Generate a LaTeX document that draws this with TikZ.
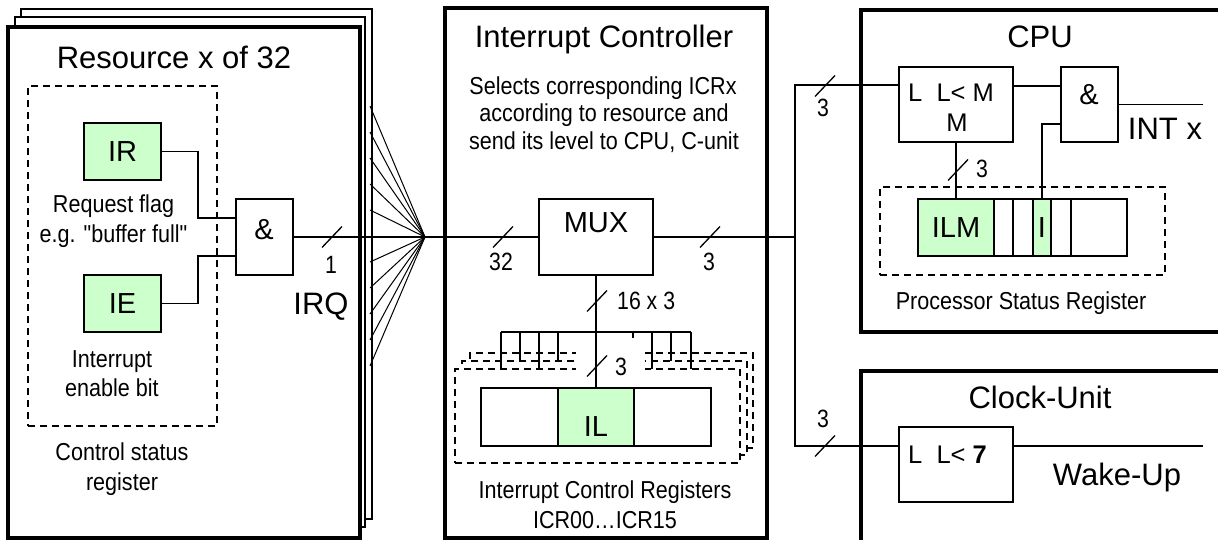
\documentclass[tikz,border=0pt]{standalone}
\usepackage{fontspec}
\setmainfont{Liberation Sans}[Ligatures=TeXOff]
\newfontfamily\narrowf[FakeStretch=0.85]{Liberation Sans}
\newfontfamily\smallf[FakeStretch=0.88,Ligatures=TeXOff]{Liberation Sans}
\definecolor{bitgreen}{RGB}{204,255,204}
\newcommand\ftitle{\fontsize{31}{36}\selectfont}
\newcommand\fbig{\fontsize{29}{34}\selectfont}
\newcommand\flab{\fontsize{25.5}{30}\selectfont}
\newcommand\fsmall{\smallf\fontsize{24.5}{28}\selectfont}
\newcommand\fbus{\narrowf\fontsize{25}{30}\selectfont}
\begin{document}
\begin{tikzpicture}[x=1pt,y=-1pt,
  wire/.style={line width=1.3pt},
  fanline/.style={line width=1pt},
  bigbox/.style={draw,line width=3.5pt,fill=white,inner sep=0pt},
  backbox/.style={draw,line width=2pt,fill=white,inner sep=0pt},
  gatebox/.style={draw,line width=1.5pt,fill=white,inner sep=0pt},
  cellbox/.style={draw,line width=2pt,fill=white,inner sep=0pt},
  greencell/.style={cellbox,fill=bitgreen},
  dashbox/.style={draw,line width=1.3pt,dash pattern=on 7pt off 5pt,inner sep=0pt},
  txt/.style={inner sep=0pt,anchor=base},
  bslash/.pic={\draw[line width=1.3pt] (-10,10.5) -- (10,-10.5);}
]
\useasboundingbox (0,0) rectangle (1218,540);
\clip (0,0) rectangle (1218,540);

% ---------------- Resource stack ----------------
\node[backbox,minimum width=351pt,minimum height=510pt] (res3) at (196.5,264) {};
\node[backbox,minimum width=350pt,minimum height=510pt] (res2) at (190,272) {};
\node[bigbox,minimum width=352pt,minimum height=511pt,line width=4pt] (res1) at (184,282.5) {};
\node[txt,font=\ftitle] (restitle) at (174,69) {Resource x of 32};
\node[dashbox,minimum width=189pt,minimum height=340pt] (csr) at (122.5,256) {};
\node[gatebox,fill=bitgreen,minimum width=77pt,minimum height=57pt,font=\fbig] (ir) at (122.5,151.5) {IR};
\node[gatebox,fill=bitgreen,minimum width=77pt,minimum height=57pt,font=\fbig] (ie) at (122.5,303.5) {IE};
\node[gatebox,minimum width=57pt,minimum height=76pt] (resAnd) at (264.5,237) {};
\node[txt,font=\fbig] (resAndT) at (264,240) {\&};
\node[txt,font=\fsmall] (rq1) at (113.5,213) {Request flag};
\node[txt,font=\fsmall] (rq2) at (113.5,242) {e.g. "buffer full"};
\node[txt,font=\fsmall] (ie1) at (112,367) {Interrupt};
\node[txt,font=\fsmall] (ie2) at (112,396) {enable bit};
\node[txt,font=\fsmall] (cs1) at (122,460) {Control status};
\node[txt,font=\fsmall] (cs2) at (122,490) {register};
\draw[wire] (ir.east) -| (198,218) -- (resAnd.west |- 0,218);
\draw[wire] (ie.east) -| (198,256) -- (resAnd.west |- 0,256);

% fan
\coordinate (fan) at (425,237);
\foreach \yy [count=\i] in {106,132,158,184,210,262,288,314,340,366}{
  \coordinate (f\i) at (370,\yy);
  \draw[fanline] (f\i) -- (fan);
}
\node[txt,font=\ftitle] (irq) at (321,314) {IRQ};

% ---------------- Interrupt controller ----------------
\node[bigbox,minimum width=322pt,minimum height=530pt] (ic) at (606,273) {};
\node[txt,font=\ftitle] (ictitle) at (604,48) {Interrupt Controller};
\node[txt,font=\fsmall] (sel1) at (603,95) {Selects corresponding ICRx};
\node[txt,font=\fsmall] (sel2) at (604,121.5) {according to resource and};
\node[txt,font=\fsmall] (sel3) at (604,150) {send its level to CPU, C-unit};
\node[gatebox,minimum width=114pt,minimum height=76pt] (mux) at (596,237) {};
\node[txt,font=\fbig] (muxT) at (596,233) {MUX};

\draw[wire] (resAnd.east) -- (fan) -- (mux.west);
\pic at (332,237) {bslash};
\node[txt,font=\fbus] (l1) at (331,273) {1};
\pic at (503,237) {bslash};
\node[txt,font=\fbus] (l32) at (501,270) {32};

% ICR stack
\node[dashbox,fill=white,minimum width=283pt,minimum height=95pt] (icr3) at (611.5,400.5) {};
\node[dashbox,fill=white,minimum width=285pt,minimum height=94pt] (icr2) at (604.5,408) {};
\node[dashbox,fill=white,minimum width=285pt,minimum height=94pt] (icr1) at (597.5,416) {};
\fill[white] (576,348) rectangle (645,373);
\node[cellbox,minimum width=77pt,minimum height=58pt] (ilL) at (519.5,417) {};
\node[greencell,minimum width=76pt,minimum height=58pt] (il) at (596,417) {};
\node[cellbox,minimum width=77pt,minimum height=58pt] (ilR) at (672.5,417) {};
\node[txt,font=\fbig] (ilT) at (596,436) {IL};

% comb
\coordinate (cL) at (501,332);
\coordinate (cR) at (691,332);
\draw[wire] (cL) -- (cR);
\foreach \xx/\yy in {501/369,520/361,539/369,558/361,652/369,671/361,691/369}{
  \draw[wire] (\xx,332) -- (\xx,\yy);
}
\draw[wire] (633,332) -- (633,338);
\draw[wire] (mux.south) -- (il.north);
\pic at (597,301) {bslash};
\node[txt,font=\fbus,anchor=base west] (l16) at (617,309) {16 x 3};
\pic at (597,366) {bslash};
\node[txt,font=\fbus] (l3icr) at (621,375) {3};
\node[txt,font=\fsmall] (icr1t) at (605,498) {Interrupt Control Registers};
\node[txt,font=\fsmall] (icr2t) at (605,528) {ICR00…ICR15};

% ---------------- CPU ----------------
\node[bigbox,minimum width=379pt,minimum height=322pt] (cpu) at (1050.5,171) {};
\node[txt,font=\ftitle] (cputitle) at (1040,48) {CPU};
\node[gatebox,minimum width=114pt,minimum height=75pt] (lcpu) at (956,104.5) {};
\node[txt,font=\flab,anchor=base west] (lcpu1) at (908,102) {L\ \ L< M};
\node[txt,font=\flab] (lcpu2) at (957,132) {M};
\node[gatebox,minimum width=57pt,minimum height=75pt] (andcpu) at (1089.5,104.5) {};
\node[txt,font=\fbig] (andcpuT) at (1089,105) {\&};
\node[dashbox,minimum width=285pt,minimum height=88pt] (psr) at (1022.5,231) {};
\node[greencell,minimum width=76pt,minimum height=57pt,font=\fbig] (ilm) at (956,227.5) {ILM};
\node[cellbox,minimum width=19pt,minimum height=57pt] (c2) at (1003.5,227.5) {};
\node[cellbox,minimum width=20pt,minimum height=57pt] (c3) at (1023,227.5) {};
\node[greencell,minimum width=18pt,minimum height=57pt,font=\fbig] (ibit) at (1042,227.5) {I};
\node[cellbox,minimum width=20pt,minimum height=57pt] (c5) at (1061,227.5) {};
\node[cellbox,minimum width=56pt,minimum height=57pt] (c6) at (1099,227.5) {};
\node[txt,font=\fsmall] (psrT) at (1021,309) {Processor Status Register};
\draw[wire] (lcpu.east |- 0,86) -- (andcpu.west |- 0,86);
\draw[wire] (ibit.north) |- (andcpu.west |- 0,124);
\draw[wire] (lcpu.south) -- (ilm.north);
\pic at (958,170) {bslash};
\node[txt,font=\fbus] (l3psr) at (982,178) {3};
\coordinate (intx) at (1203,104.5);
\draw[wire] (andcpu.east) -- (intx);
\node[txt,font=\ftitle] (intxT) at (1165,140) {INT x};

% ---------------- Clock unit ----------------
\node[bigbox,minimum width=379pt,minimum height=174pt] (clk) at (1050.5,458) {};
\node[txt,font=\ftitle] (clktitle) at (1040,408) {Clock-Unit};
\node[gatebox,minimum width=114pt,minimum height=75pt] (lclk) at (956,464.5) {};
\node[txt,font=\flab,anchor=base west] (lclkT) at (908,463) {L\ \ L< \textbf{7}};
\coordinate (wake) at (1203,446);
\draw[wire] (lclk.east |- 0,446) -- (wake);
\node[txt,font=\ftitle] (wakeT) at (1117,485) {Wake-Up};

% ---------------- bus to CPU / clock ----------------
\coordinate (bus) at (795,237);
\draw[wire] (mux.east) -- (bus);
\draw[wire] (lcpu.west |- 0,85) -| (bus);
\draw[wire] (bus) |- (lclk.west |- 0,446);
\pic at (710,237) {bslash};
\node[txt,font=\fbus] (l3mux) at (709,270) {3};
\pic at (825,86) {bslash};
\node[txt,font=\fbus] (l3cpu) at (823,117) {3};
\pic at (825,446) {bslash};
\node[txt,font=\fbus] (l3clk) at (823,427) {3};
\end{tikzpicture}
\end{document}
